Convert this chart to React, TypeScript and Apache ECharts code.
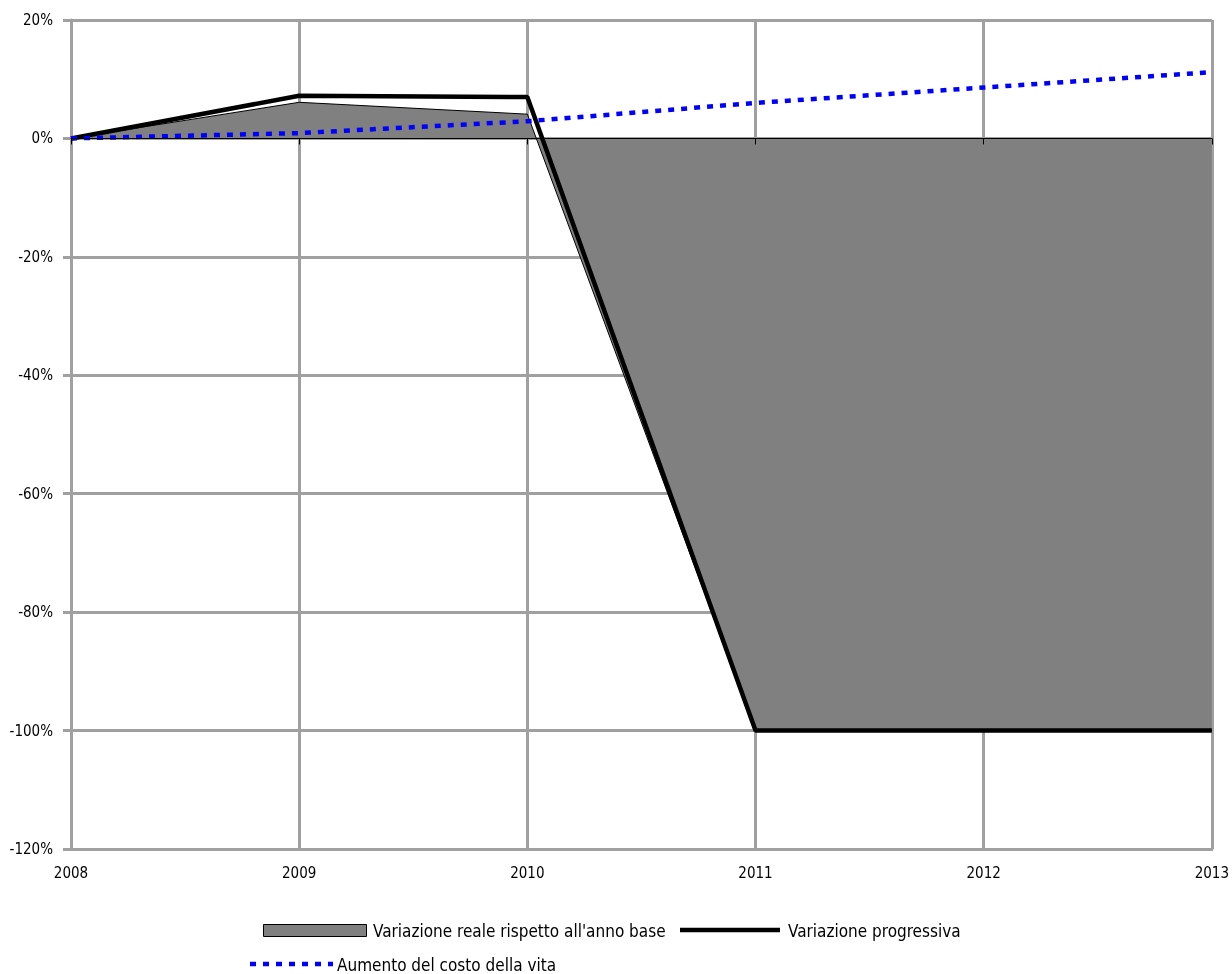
import React, { useEffect, useRef } from "react";
import * as echarts from "echarts";

const years = ["2008", "2009", "2010", "2011", "2012", "2013"];
const realChange = [0, 6.1, 4.1, -100, -100, -100];
const progressive = [0, 7.2, 7.0, -100, -100, -100];
const costOfLiving = [0, 0.9, 2.9, 6.0, 8.6, 11.2];
const legendNames = [
  "Variazione reale rispetto all'anno base",
  "Variazione progressiva",
  "Aumento del costo della vita",
];

const FONT = "'DejaVu Sans Condensed', 'Liberation Sans Narrow', sans-serif";
const GRID = "#a0a0a0";

export default function App() {
  const ref = useRef<HTMLDivElement>(null);
  useEffect(() => {
    if (!ref.current) return;
    const chart = echarts.init(ref.current, undefined, { renderer: "svg" });
    const textStyle = { fontFamily: FONT, fontSize: 17, fill: "#000" };
    chart.setOption({
      animation: false,
      textStyle: { fontFamily: FONT },
      grid: { left: 71, right: 20, top: 20, bottom: 125, containLabel: false },
      xAxis: [
        {
          type: "category",
          data: years,
          boundaryGap: false,
          position: "bottom",
          axisLine: { show: true, onZero: false, lineStyle: { color: GRID, width: 3 } },
          axisTick: { show: false },
          axisLabel: { color: "#000", fontSize: 15, fontFamily: FONT, margin: 16 },
          splitLine: { show: true, lineStyle: { color: GRID, width: 3 } },
        },
        {
          type: "category",
          data: years,
          boundaryGap: false,
          position: "bottom",
          z: 5,
          axisLine: { show: true, onZero: true, lineStyle: { color: "#000", width: 1 } },
          axisTick: { show: true, inside: false, length: 6, lineStyle: { color: "#000", width: 1 } },
          axisLabel: { show: false },
          splitLine: { show: false },
        },
      ],
      yAxis: {
        type: "value",
        min: -120,
        max: 20,
        interval: 20,
        axisLine: { show: true, lineStyle: { color: GRID, width: 3 } },
        axisTick: { show: true, length: 8, lineStyle: { color: GRID, width: 3 } },
        axisLabel: {
          color: "#000",
          fontSize: 15,
          fontFamily: FONT,
          margin: 18,
          formatter: (v: number) => `${v}%`,
        },
        splitLine: { show: true, lineStyle: { color: GRID, width: 3 } },
      },
      series: [
        {
          name: legendNames[0],
          type: "line",
          data: realChange,
          symbol: "none",
          lineStyle: { color: "#000", width: 1 },
          areaStyle: { color: "#808080", opacity: 1, origin: 0 },
          z: 2,
        },
        {
          name: legendNames[1],
          type: "line",
          data: progressive,
          symbol: "none",
          lineStyle: { color: "#000", width: 4.5 },
          z: 3,
        },
        {
          name: legendNames[2],
          type: "line",
          data: costOfLiving,
          symbol: "none",
          lineStyle: { color: "#0000ff", width: 4.5, type: [6, 7], cap: "butt" },
          z: 4,
        },
      ],
      graphic: [
        {
          type: "rect",
          shape: { x: 263.5, y: 924.5, width: 103, height: 12 },
          style: { fill: "#808080", stroke: "#000", lineWidth: 1 },
        },
        {
          type: "text",
          x: 373,
          y: 931,
          style: { ...textStyle, text: legendNames[0], verticalAlign: "middle" },
        },
        {
          type: "line",
          shape: { x1: 680, y1: 930, x2: 780, y2: 930 },
          style: { stroke: "#000", lineWidth: 4.5 },
        },
        {
          type: "text",
          x: 788,
          y: 931,
          style: { ...textStyle, text: legendNames[1], verticalAlign: "middle" },
        },
        {
          type: "line",
          shape: { x1: 250, y1: 964, x2: 333, y2: 964 },
          style: { stroke: "#0000ff", lineWidth: 4.5, lineDash: [6, 7] },
        },
        {
          type: "text",
          x: 337,
          y: 965,
          style: { ...textStyle, text: legendNames[2], verticalAlign: "middle" },
        },
      ],
    });
    return () => chart.dispose();
  }, []);
  return (
    <div
      ref={ref}
      style={{ position: "fixed", left: 0, top: 0, width: 1232, height: 974 }}
    />
  );
}
